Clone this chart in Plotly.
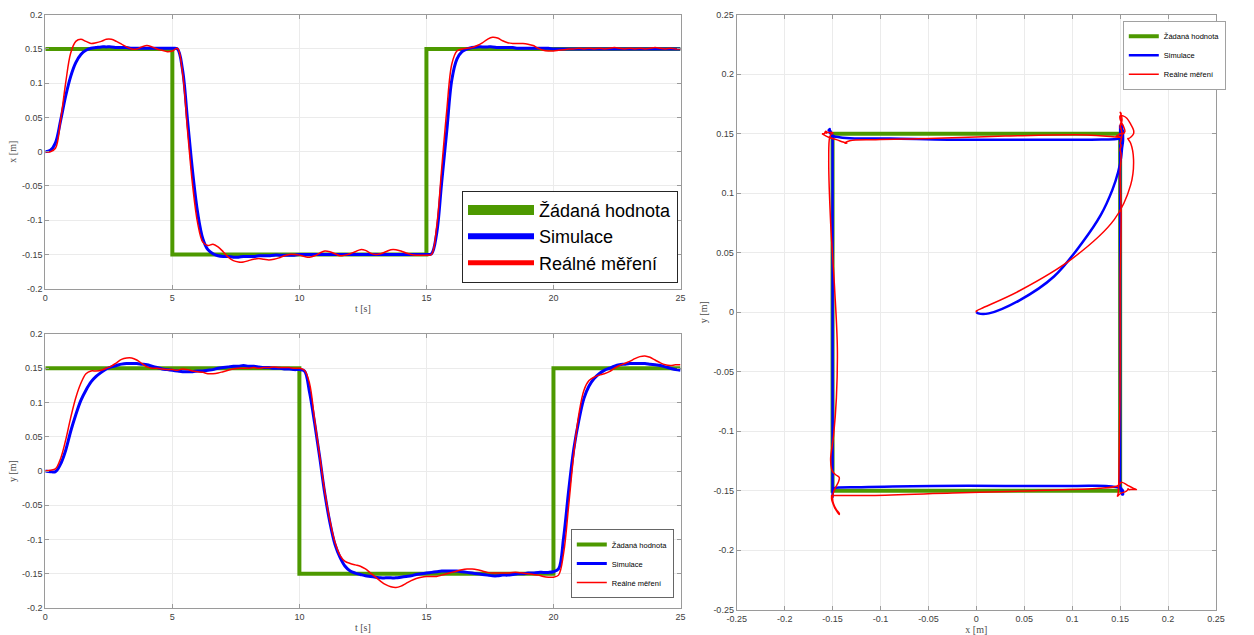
import numpy as np
import plotly.graph_objects as go

# ---------------- data ----------------
# common sampling time grid [s]
t = np.round(np.arange(0, 25.0001, 0.2), 1)

# x position: simulation and real measurement [m]
x_sim = [
    0.000, 0.002, 0.013, 0.045, 0.081, 0.110, 0.130, 0.142, 0.148, 0.151,
    0.152, 0.153, 0.153, 0.153, 0.152, 0.152, 0.152, 0.151, 0.151, 0.151,
    0.151, 0.151, 0.151, 0.151, 0.151, 0.151, 0.150, 0.120, 0.045, -0.030,
    -0.090, -0.127, -0.143, -0.149, -0.152, -0.153, -0.153, -0.154, -0.154, -0.153,
    -0.153, -0.153, -0.152, -0.152, -0.152, -0.151, -0.151, -0.151, -0.151, -0.151,
    -0.150, -0.150, -0.150, -0.150, -0.150, -0.150, -0.150, -0.150, -0.150, -0.150,
    -0.150, -0.150, -0.150, -0.150, -0.150, -0.150, -0.150, -0.150, -0.150, -0.150,
    -0.150, -0.150, -0.150, -0.150, -0.150, -0.150, -0.149, -0.120, -0.045, 0.030,
    0.105, 0.135, 0.146, 0.150, 0.152, 0.153, 0.153, 0.153, 0.153, 0.152,
    0.152, 0.152, 0.152, 0.151, 0.151, 0.151, 0.151, 0.151, 0.151, 0.151,
    0.150, 0.150, 0.150, 0.150, 0.150, 0.150, 0.150, 0.150, 0.150, 0.150,
    0.150, 0.150, 0.150, 0.150, 0.150, 0.150, 0.150, 0.150, 0.150, 0.150,
    0.150, 0.150, 0.150, 0.150, 0.150, 0.150,
]
x_meas = [
    0.000, 0.000, 0.005, 0.045, 0.100, 0.144, 0.161, 0.164, 0.161, 0.158,
    0.159, 0.161, 0.164, 0.164, 0.161, 0.157, 0.153, 0.150, 0.150, 0.153,
    0.155, 0.153, 0.150, 0.148, 0.146, 0.147, 0.151, 0.115, 0.030, -0.050,
    -0.105, -0.132, -0.137, -0.135, -0.139, -0.146, -0.154, -0.159, -0.161, -0.161,
    -0.159, -0.157, -0.156, -0.157, -0.158, -0.157, -0.155, -0.152, -0.150, -0.150,
    -0.151, -0.153, -0.154, -0.152, -0.148, -0.145, -0.146, -0.149, -0.152, -0.151,
    -0.149, -0.146, -0.143, -0.144, -0.148, -0.150, -0.149, -0.146, -0.143, -0.143,
    -0.145, -0.148, -0.150, -0.151, -0.151, -0.151, -0.150, -0.110, -0.025, 0.060,
    0.128, 0.147, 0.150, 0.151, 0.152, 0.155, 0.159, 0.164, 0.167, 0.166,
    0.162, 0.159, 0.158, 0.158, 0.158, 0.157, 0.155, 0.151, 0.148, 0.147,
    0.147, 0.148, 0.149, 0.150, 0.150, 0.151, 0.150, 0.151, 0.150, 0.151,
    0.150, 0.151, 0.152, 0.151, 0.150, 0.151, 0.150, 0.151, 0.150, 0.151,
    0.152, 0.151, 0.150, 0.151, 0.150, 0.150,
]

# y position: simulation and real measurement [m]
y_sim = [
    0.000, -0.001, -0.001, 0.010, 0.030, 0.058, 0.082, 0.103, 0.118, 0.130,
    0.138, 0.144, 0.149, 0.152, 0.154, 0.156, 0.157, 0.157, 0.157, 0.156,
    0.155, 0.153, 0.151, 0.149, 0.148, 0.147, 0.146, 0.145, 0.145, 0.145,
    0.146, 0.146, 0.147, 0.148, 0.150, 0.151, 0.152, 0.153, 0.153, 0.154,
    0.153, 0.153, 0.152, 0.151, 0.151, 0.150, 0.150, 0.149, 0.149, 0.148,
    0.148, 0.146, 0.115, 0.070, 0.020, -0.033, -0.075, -0.107, -0.126, -0.139,
    -0.146, -0.149, -0.151, -0.153, -0.154, -0.155, -0.156, -0.156, -0.156, -0.156,
    -0.155, -0.154, -0.153, -0.151, -0.150, -0.149, -0.148, -0.147, -0.146, -0.146,
    -0.146, -0.146, -0.147, -0.148, -0.149, -0.150, -0.151, -0.152, -0.153, -0.153,
    -0.152, -0.152, -0.151, -0.150, -0.150, -0.149, -0.149, -0.148, -0.148, -0.148,
    -0.147, -0.143, -0.097, -0.028, 0.032, 0.074, 0.106, 0.124, 0.135, 0.142,
    0.147, 0.150, 0.153, 0.155, 0.156, 0.157, 0.157, 0.157, 0.157, 0.156,
    0.155, 0.154, 0.152, 0.150, 0.148, 0.147,
]
y_meas = [
    0.000, 0.001, 0.003, 0.018, 0.045, 0.078, 0.107, 0.128, 0.142, 0.146,
    0.146, 0.147, 0.150, 0.153, 0.158, 0.163, 0.165, 0.165, 0.162, 0.157,
    0.152, 0.150, 0.150, 0.149, 0.148, 0.148, 0.147, 0.149, 0.148, 0.146,
    0.145, 0.144, 0.142, 0.142, 0.143, 0.145, 0.147, 0.149, 0.150, 0.150,
    0.150, 0.151, 0.150, 0.151, 0.151, 0.152, 0.151, 0.151, 0.151, 0.150,
    0.150, 0.147, 0.128, 0.075, 0.022, -0.030, -0.072, -0.104, -0.123, -0.132,
    -0.135, -0.137, -0.139, -0.143, -0.149, -0.155, -0.161, -0.166, -0.169, -0.170,
    -0.168, -0.164, -0.160, -0.157, -0.155, -0.154, -0.154, -0.154, -0.152, -0.150,
    -0.148, -0.146, -0.144, -0.143, -0.143, -0.144, -0.146, -0.148, -0.149, -0.149,
    -0.149, -0.149, -0.148, -0.148, -0.149, -0.150, -0.151, -0.152, -0.154, -0.155,
    -0.155, -0.152, -0.120, -0.050, 0.025, 0.083, 0.118, 0.132, 0.137, 0.140,
    0.142, 0.145, 0.150, 0.154, 0.157, 0.160, 0.164, 0.167, 0.168, 0.166,
    0.162, 0.158, 0.155, 0.154, 0.155, 0.155,
]

# reference (setpoint) – step changes at these times
ref_t = [0, 5, 10, 15, 20, 25]
ref_x = [0.15, -0.15, -0.15, 0.15, 0.15, 0.15]
ref_y = [0.15, 0.15, -0.15, -0.15, 0.15, 0.15]

names = ["Žádaná hodnota", "Simulace", "Reálné měření"]

t_ticks = [0, 5, 10, 15, 20, 25]
pos_ticks = [-0.2, -0.15, -0.1, -0.05, 0, 0.05, 0.1, 0.15, 0.2]
xy_ticks = [-0.25, -0.2, -0.15, -0.1, -0.05, 0, 0.05, 0.1, 0.15, 0.2, 0.25]

# ---------------- style ----------------
GREEN, BLUE, RED = "#4d9900", "#0000ff", "#ff0000"
colors = [GREEN, BLUE, RED]
SANS = "Liberation Sans"
SERIF = "Liberation Serif"


def fmt(v):
    return "%g" % v


fig = go.Figure()

# ---- top-left: x(t) ----
fig.add_trace(go.Scatter(x=ref_t, y=ref_x, mode="lines", line=dict(color=GREEN, width=4, shape="hv"),
                         xaxis="x", yaxis="y", showlegend=False))
fig.add_trace(go.Scatter(x=t, y=x_sim, mode="lines", line=dict(color=BLUE, width=3, shape="spline"),
                         xaxis="x", yaxis="y", showlegend=False))
fig.add_trace(go.Scatter(x=t, y=x_meas, mode="lines", line=dict(color=RED, width=1.5, shape="spline"),
                         xaxis="x", yaxis="y", showlegend=False))
# legend entries (thick keys) for the top-left legend
for nm, c, w in zip(names, colors, [10, 6, 5]):
    fig.add_trace(go.Scatter(x=[None], y=[None], mode="lines", line=dict(color=c, width=w),
                             name=nm, xaxis="x", yaxis="y", legend="legend", showlegend=True))

# ---- bottom-left: y(t) ----
fig.add_trace(go.Scatter(x=ref_t, y=ref_y, mode="lines", line=dict(color=GREEN, width=4, shape="hv"),
                         xaxis="x2", yaxis="y2", name=names[0], legend="legend2"))
fig.add_trace(go.Scatter(x=t, y=y_sim, mode="lines", line=dict(color=BLUE, width=3, shape="spline"),
                         xaxis="x2", yaxis="y2", name=names[1], legend="legend2"))
fig.add_trace(go.Scatter(x=t, y=y_meas, mode="lines", line=dict(color=RED, width=1.5, shape="spline"),
                         xaxis="x2", yaxis="y2", name=names[2], legend="legend2"))

# ---- right: trajectory y(x) ----
fig.add_trace(go.Scatter(x=ref_x, y=ref_y, mode="lines", line=dict(color=GREEN, width=4),
                         xaxis="x3", yaxis="y3", name=names[0], legend="legend3"))
fig.add_trace(go.Scatter(x=x_sim, y=y_sim, mode="lines", line=dict(color=BLUE, width=2.5, shape="spline"),
                         xaxis="x3", yaxis="y3", name=names[1], legend="legend3"))
fig.add_trace(go.Scatter(x=x_meas, y=y_meas, mode="lines", line=dict(color=RED, width=1.5, shape="spline"),
                         xaxis="x3", yaxis="y3", name=names[2], legend="legend3"))

W, H = 1254, 635


def px_x(a, b):
    return [a / W, b / W]


def px_y(top, bottom):
    return [(H - bottom) / H, (H - top) / H]


def axis(domain, rng, ticks, title, anchor, standoff):
    return dict(
        domain=domain, range=rng, anchor=anchor, automargin=False,
        tickmode="array", tickvals=ticks, ticktext=[fmt(v) for v in ticks],
        showline=True, linecolor="#9a9a9a", linewidth=1, mirror="ticks",
        ticks="inside", ticklen=4, tickcolor="#9a9a9a",
        showgrid=True, gridcolor="#ebebeb", gridwidth=1, zeroline=False,
        tickfont=dict(family=SANS, size=9, color="#404040"),
        title=dict(text=title, font=dict(family=SERIF, size=10, color="#4d4d4d"), standoff=standoff),
        fixedrange=True,
    )


fig.update_layout(
    width=W, height=H, margin=dict(l=0, r=0, t=0, b=0, autoexpand=False),
    paper_bgcolor="white", plot_bgcolor="white",
    xaxis=axis(px_x(45.3, 680.5), [0, 25], t_ticks, "t [s]", "y", 3),
    yaxis=axis(px_y(14.7, 288.7), [-0.2, 0.2], pos_ticks, "x [m]", "x", 3),
    xaxis2=axis(px_x(45.3, 680.5), [0, 25], t_ticks, "t [s]", "y2", 3),
    yaxis2=axis(px_y(334, 608), [-0.2, 0.2], pos_ticks, "y [m]", "x2", 3),
    xaxis3=axis(px_x(736.7, 1216), [-0.25, 0.25], xy_ticks, "x [m]", "y3", 3),
    yaxis3=axis(px_y(14.7, 609.7), [-0.25, 0.25], xy_ticks, "y [m]", "x3", 3),
    legend=dict(x=678 / W, y=(H - 282.7) / H, xanchor="right", yanchor="bottom",
                font=dict(family=SANS, size=18, color="black"), bgcolor="white",
                bordercolor="#262626", borderwidth=1, itemwidth=66, tracegroupgap=0),
    legend2=dict(x=674 / W, y=(H - 598.3) / H, xanchor="right", yanchor="bottom",
                 font=dict(family=SANS, size=7.5, color="black"), bgcolor="white",
                 bordercolor="#404040", borderwidth=0.8, itemwidth=30, tracegroupgap=0),
    legend3=dict(x=1123 / W, y=(H - 21) / H, xanchor="left", yanchor="top",
                 font=dict(family=SANS, size=7.5, color="black"), bgcolor="white",
                 bordercolor="#8a8a8a", borderwidth=0.8, itemwidth=30, tracegroupgap=0),
)

fig.write_html("out.html")
